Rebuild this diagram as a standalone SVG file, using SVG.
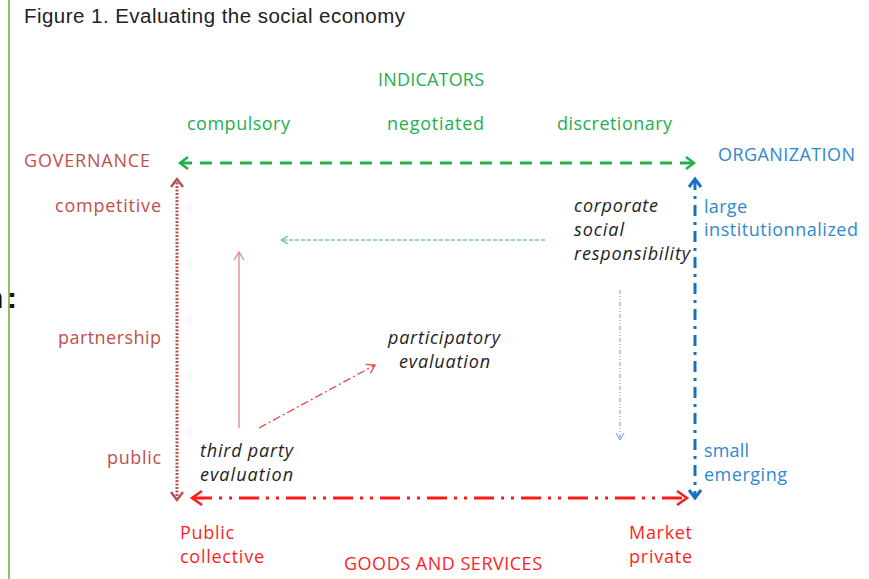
<svg xmlns="http://www.w3.org/2000/svg" width="869" height="579" viewBox="0 0 869 579">
<style>
.t{font-family:"Open Sans",Lato,"Liberation Sans",sans-serif;font-size:18px}
.i{font-family:"Open Sans",Lato,"Liberation Sans",sans-serif;font-size:18px;font-style:italic;fill:#1e1e1e}
.g{fill:#22b04b}.r{fill:#c0504d}.b{fill:#2f88d0}.rr{fill:#ff1f1f}
</style>
<defs>
<marker id="mg" markerUnits="userSpaceOnUse" markerWidth="14" markerHeight="16" refX="10" refY="7" orient="auto-start-reverse" viewBox="0 0 14 14"><path d="M2,1 L10,7 L2,13" fill="none" stroke="#22b04b" stroke-width="2.5"/></marker>
<marker id="mr" markerUnits="userSpaceOnUse" markerWidth="14" markerHeight="14" refX="10" refY="7" orient="auto-start-reverse" viewBox="0 0 14 14"><path d="M2,1 L10,7 L2,13" fill="none" stroke="#b85450" stroke-width="2.5"/></marker>
<marker id="mb" markerUnits="userSpaceOnUse" markerWidth="14" markerHeight="14" refX="10" refY="7" orient="auto-start-reverse" viewBox="0 0 14 14"><path d="M2,1 L10,7 L2,13" fill="none" stroke="#1a70c0" stroke-width="3"/></marker>
<marker id="mrr" markerUnits="userSpaceOnUse" markerWidth="16" markerHeight="16" refX="12" refY="8" orient="auto-start-reverse" viewBox="0 0 16 16"><path d="M2,1 L12,8 L2,15" fill="none" stroke="#ff1a1a" stroke-width="2.5"/></marker>
<marker id="mtg" markerUnits="userSpaceOnUse" markerWidth="10" markerHeight="10" refX="8" refY="5" orient="auto" viewBox="0 0 10 10"><path d="M1,1 L8,5 L1,9" fill="none" stroke="#33bb55" stroke-width="1"/></marker>
<marker id="mtp" markerUnits="userSpaceOnUse" markerWidth="12" markerHeight="12" refX="9" refY="6" orient="auto" viewBox="0 0 12 12"><path d="M1,1 L9,6 L1,11" fill="none" stroke="#e08888" stroke-width="1.3"/></marker>
<marker id="mtr" markerUnits="userSpaceOnUse" markerWidth="12" markerHeight="12" refX="9" refY="6" orient="auto" viewBox="0 0 12 12"><path d="M1,1 L9,6 L1,11" fill="none" stroke="#ff3b3b" stroke-width="1.3"/></marker>
<marker id="mtb" markerUnits="userSpaceOnUse" markerWidth="10" markerHeight="10" refX="8" refY="5" orient="auto" viewBox="0 0 10 10"><path d="M1,1 L8,5 L1,9" fill="none" stroke="#6a9ad4" stroke-width="1"/></marker>
</defs>
<rect width="869" height="579" fill="#ffffff"/>
<line x1="9" y1="0" x2="9" y2="579" stroke="#8cc063" stroke-width="2"/>
<text x="-15" y="308" font-family="'Liberation Sans',Arial,sans-serif" font-size="30" font-weight="bold" fill="#111">n<tspan x="7">:</tspan></text>
<text x="24" y="23" font-family="'Liberation Sans',Arial,sans-serif" font-size="20.5" fill="#222" textLength="381" lengthAdjust="spacing">Figure 1. Evaluating the social economy</text>

<g id="connectors">
<line x1="180" y1="163" x2="694" y2="163" stroke="#22b04b" stroke-width="3" stroke-dasharray="12 8" marker-start="url(#mg)" marker-end="url(#mg)"/>
<line x1="177" y1="179" x2="177" y2="500" stroke="#b85450" stroke-width="3" stroke-dasharray="2 1.5" marker-start="url(#mr)" marker-end="url(#mr)"/>
<line x1="695" y1="179" x2="695" y2="498" stroke="#1a70c0" stroke-width="3" stroke-dasharray="11 6 3 6" marker-start="url(#mb)" marker-end="url(#mb)"/>
<line x1="192" y1="498" x2="687" y2="498" stroke="#ff1a1a" stroke-width="3" stroke-dasharray="20 7 3 7 3 7" marker-start="url(#mrr)" marker-end="url(#mrr)"/>
<line x1="545" y1="240" x2="281" y2="240" stroke="#33bb55" stroke-width="1" stroke-dasharray="4 2" marker-end="url(#mtg)"/>
<line x1="239" y1="428" x2="239" y2="252" stroke="#e08888" stroke-width="1.3" marker-end="url(#mtp)"/>
<line x1="259" y1="428" x2="375" y2="365" stroke="#ff3b3b" stroke-width="1.3" stroke-dasharray="8 3 2 3" marker-end="url(#mtr)"/>
<line x1="620" y1="290" x2="620" y2="440" stroke="#6a9ad4" stroke-width="1" stroke-dasharray="4 2 1 2 1 2" marker-end="url(#mtb)"/>
</g>

<g id="indicators"><text class="t g" x="378" y="86" textLength="106" lengthAdjust="spacing">INDICATORS</text>
<text class="t g" x="187" y="130" textLength="103" lengthAdjust="spacing">compulsory</text>
<text class="t g" x="387" y="130" textLength="97" lengthAdjust="spacing">negotiated</text>
<text class="t g" x="557" y="130" textLength="115" lengthAdjust="spacing">discretionary</text></g>
<g id="governance"><text class="t r" x="24" y="167" textLength="126" lengthAdjust="spacing">GOVERNANCE</text>
<text class="t r" x="55" y="212" textLength="106" lengthAdjust="spacing">competitive</text>
<text class="t r" x="58" y="344" textLength="103" lengthAdjust="spacing">partnership</text>
<text class="t r" x="107" y="464" textLength="54" lengthAdjust="spacing">public</text></g>
<g id="organization"><text class="t b" x="718" y="161" textLength="137" lengthAdjust="spacing">ORGANIZATION</text>
<text class="t b" x="704" y="213" textLength="43" lengthAdjust="spacing">large</text>
<text class="t b" x="704" y="236" textLength="154" lengthAdjust="spacing">institutionnalized</text>
<text class="t b" x="704" y="457" textLength="45" lengthAdjust="spacing">small</text>
<text class="t b" x="704" y="481" textLength="83" lengthAdjust="spacing">emerging</text></g>
<g id="goods"><text class="t rr" x="180" y="539" textLength="54" lengthAdjust="spacing">Public</text>
<text class="t rr" x="180" y="563" textLength="84" lengthAdjust="spacing">collective</text>
<text class="t rr" x="629" y="539" textLength="63" lengthAdjust="spacing">Market</text>
<text class="t rr" x="629" y="563" textLength="63" lengthAdjust="spacing">private</text>
<text class="t rr" x="344" y="570" textLength="198" lengthAdjust="spacing">GOODS AND SERVICES</text></g>
<g id="csr"><text class="i" x="574" y="212" textLength="84" lengthAdjust="spacing">corporate</text>
<text class="i" x="574" y="236" textLength="50" lengthAdjust="spacing">social</text>
<text class="i" x="574" y="260" textLength="116" lengthAdjust="spacing">responsibility</text></g>
<g id="participatory"><text class="i" x="388" y="344" textLength="112" lengthAdjust="spacing">participatory</text>
<text class="i" x="399" y="368" textLength="91" lengthAdjust="spacing">evaluation</text></g>
<g id="thirdparty"><text class="i" x="200" y="457" textLength="93" lengthAdjust="spacing">third party</text>
<text class="i" x="200" y="481" textLength="93" lengthAdjust="spacing">evaluation</text></g>
</svg>
